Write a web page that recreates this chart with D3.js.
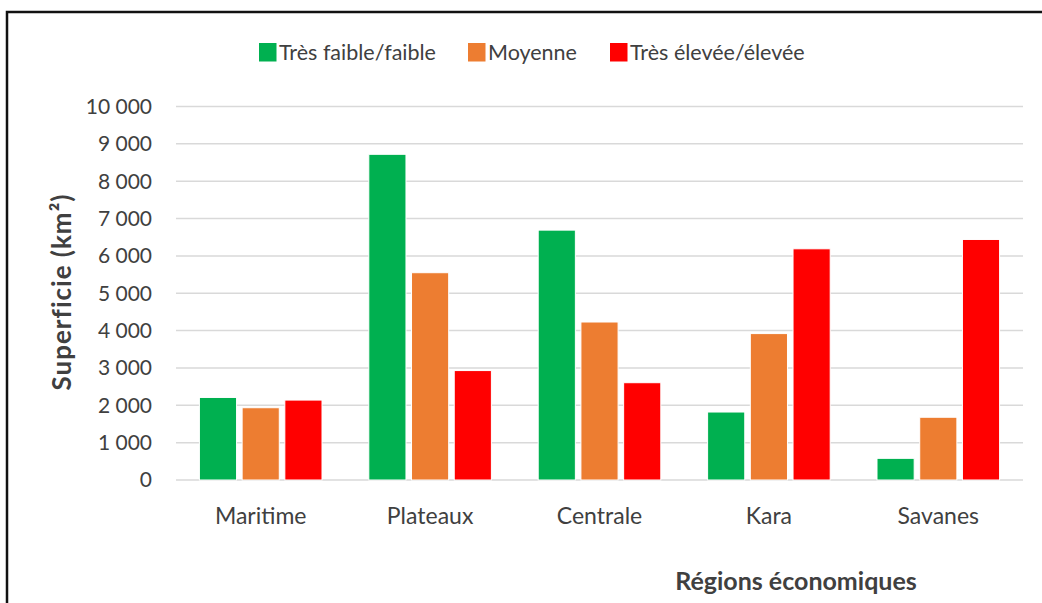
<!DOCTYPE html>
<html lang="fr">
<head>
  <meta charset="UTF-8">
  <title>Superficie par région</title>
  <script src="https://cdn.jsdelivr.net/npm/d3@7"></script>
  <style>
    body { margin: 0; background: #fff; }
    svg text { font-family: "Lato", "Liberation Sans Narrow", sans-serif; fill: #404040; }
    .grid line { stroke: #d9d9d9; stroke-width: 1.5px; }
    .bar { stroke: #fff; stroke-width: 1px; }
  </style>
</head>
<body>
<svg id="chart" width="1042" height="603"></svg>
<script>
  // data
  var regions = ["Maritime", "Plateaux", "Centrale", "Kara", "Savanes"];
  var classes = ["Très faible/faible", "Moyenne", "Très élevée/élevée"];
  var faible  = [2210, 8720, 6690, 1820, 580];
  var moyenne = [1935, 5550, 4230, 3920, 1680];
  var elevee  = [2140, 2930, 2605, 6190, 6440];
  var colors  = ["#00b050", "#ed7d31", "#ff0000"];
  var yTicks  = [0, 1000, 2000, 3000, 4000, 5000, 6000, 7000, 8000, 9000, 10000];

  var series = [faible, moyenne, elevee];

  var svg = d3.select("#chart");
  var plotL = 176, plotR = 1023, plotT = 106.5, plotB = 480;

  // outer frame (only top and left edges show in the picture)
  svg.append("path")
    .attr("d", "M7,612 V12 H1050")
    .attr("fill", "none")
    .attr("stroke", "#111")
    .attr("stroke-width", 2.5);

  var x0 = d3.scaleBand().domain(regions).range([plotL, plotR])
    .paddingInner(0.241).paddingOuter(0.1205);
  var x1 = d3.scaleBand().domain(d3.range(classes.length)).range([0, x0.bandwidth()])
    .paddingInner(0.13).paddingOuter(0.07);
  var y = d3.scaleLinear().domain([0, 10000]).range([plotB, plotT]);

  var fmt = d3.formatLocale({decimal: ",", thousands: " ", grouping: [3], currency: ["", " €"]}).format(",d");

  // gridlines
  svg.append("g").attr("class", "grid")
    .selectAll("line").data(yTicks).join("line")
    .attr("x1", plotL).attr("x2", plotR)
    .attr("y1", d => y(d)).attr("y2", d => y(d));

  // y axis labels
  var yAxis = svg.append("g")
    .attr("transform", "translate(" + (plotL - 24) + ",0)")
    .call(d3.axisLeft(y).tickValues(yTicks).tickFormat(fmt).tickSize(0).tickPadding(0));
  yAxis.select(".domain").remove();
  yAxis.selectAll("text").style("font-size", "21px").attr("fill", "#404040").attr("dy", "0.33em");

  // bars
  var groups = svg.append("g").selectAll("g").data(regions).join("g")
    .attr("transform", d => "translate(" + x0(d) + ",0)");
  groups.selectAll("rect")
    .data((r, i) => series.map((s, k) => ({k: k, v: s[i]})))
    .join("rect")
    .attr("class", "bar")
    .attr("x", d => x1(d.k))
    .attr("width", x1.bandwidth())
    .attr("y", d => y(d.v))
    .attr("height", d => plotB - y(d.v))
    .attr("fill", d => colors[d.k]);

  // category labels
  var xAxis = svg.append("g")
    .attr("transform", "translate(0," + plotB + ")")
    .call(d3.axisBottom(x0).tickSize(0).tickPadding(0));
  xAxis.select(".domain").remove();
  xAxis.selectAll("text").style("font-size", "23px").attr("fill", "#404040")
    .attr("y", 44).attr("dy", null);

  // axis titles
  svg.append("text")
    .attr("transform", "translate(71,292) rotate(-90)")
    .attr("text-anchor", "middle")
    .style("font-size", "26px").style("font-weight", "bold").style("letter-spacing", "1px")
    .attr("fill", "#000")
    .text("Superficie (km²)");
  svg.append("text")
    .attr("x", 796).attr("y", 589.5)
    .attr("text-anchor", "middle")
    .style("font-size", "25px").style("font-weight", "bold").attr("fill", "#000")
    .text("Régions économiques");

  // legend
  var legX = [259, 468, 610];
  var leg = svg.append("g").selectAll("g").data(classes).join("g")
    .attr("transform", (d, i) => "translate(" + legX[i] + ",43)");
  leg.append("rect").attr("width", 17.5).attr("height", 18.5).attr("fill", (d, i) => colors[i]);
  leg.append("text").attr("x", 20).attr("y", 16.5)
    .style("font-size", "21.5px").attr("fill", "#404040")
    .text(d => d);
</script>
</body>
</html>
